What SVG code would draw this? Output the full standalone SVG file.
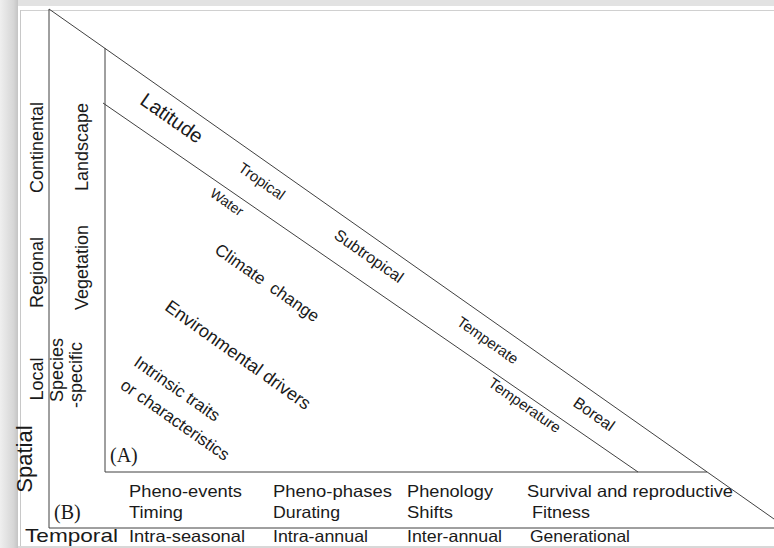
<svg xmlns="http://www.w3.org/2000/svg" width="774" height="548" viewBox="0 0 774 548">
  <style>
    .t { font-family: "Liberation Sans", Arial, sans-serif; fill: #1a1a1a; }
    .s { font-family: "Liberation Serif", "Times New Roman", serif; fill: #1a1a1a; }
    .ln { stroke: #404040; stroke-width: 1; fill: none; }
    .d { text-anchor: middle; dominant-baseline: central; }
    .v { text-anchor: middle; }
  </style>
  <defs>
    <linearGradient id="shadowL" x1="0" y1="0" x2="1" y2="0">
      <stop offset="0" stop-color="#efefef"/>
      <stop offset="0.75" stop-color="#d6d6d6"/>
      <stop offset="1" stop-color="#c4c4c4"/>
    </linearGradient>
  </defs>

  <g id="frame">
    <rect x="0" y="0" width="774" height="548" fill="#ffffff"/>
    <rect x="0" y="0" width="774" height="6" fill="#e2e2e2"/>
    <rect x="0" y="0" width="18" height="548" fill="url(#shadowL)"/>
    <line x1="20" y1="10.5" x2="774" y2="10.5" stroke="#d0d0d0" stroke-width="1.2"/>
    <line x1="20.5" y1="10" x2="20.5" y2="546" stroke="#c8c8c8" stroke-width="1"/>
    <rect x="18" y="546" width="756" height="2" fill="#d8d8d8"/>
  </g>

  <g id="connectors">
    <line class="ln" x1="49" y1="9" x2="49" y2="528"/>
    <line class="ln" x1="49" y1="9" x2="774" y2="519"/>
    <line class="ln" x1="49" y1="528" x2="774" y2="528"/>
    <line class="ln" x1="105" y1="48" x2="105" y2="472"/>
    <line class="ln" x1="105" y1="472" x2="707" y2="472"/>
    <line class="ln" x1="103" y1="103" x2="638" y2="472"/>
  </g>

  <g id="spatial-axis">
    <text class="t v" font-size="18" transform="translate(43,147.5) rotate(-90)">Continental</text>
    <text class="t v" font-size="18" transform="translate(43,272.5) rotate(-90)">Regional</text>
    <text class="t v" font-size="18" transform="translate(43,379) rotate(-90)">Local</text>
    <text class="t v" font-size="22" transform="translate(32,459) rotate(-90)">Spatial</text>
    <text class="t v" font-size="18" transform="translate(88,147) rotate(-90)">Landscape</text>
    <text class="t v" font-size="18" transform="translate(88,267.5) rotate(-90)">Vegetation</text>
    <text class="t v" font-size="18" transform="translate(63,370) rotate(-90)">Species</text>
    <text class="t v" font-size="18" transform="translate(82,375) rotate(-90)">-specific</text>
  </g>

  <g id="latitude-band">
    <text class="t d" font-size="20" transform="translate(172,118) rotate(35)">Latitude</text>
    <text class="t d" font-size="15" transform="translate(262,181) rotate(35)">Tropical</text>
    <text class="t d" font-size="16" transform="translate(369,256) rotate(35)">Subtropical</text>
    <text class="t d" font-size="15" transform="translate(488,340) rotate(35)">Temperate</text>
    <text class="t d" font-size="16" transform="translate(594,414) rotate(35)">Boreal</text>
  </g>

  <g id="drivers">
    <text class="t d" font-size="14" transform="translate(227,202) rotate(35)">Water</text>
    <text class="t d" font-size="15" transform="translate(525,405) rotate(35)">Temperature</text>
    <text class="t d" font-size="17" xml:space="preserve" transform="translate(267,283) rotate(35)">Climate  change</text>
    <text class="t d" font-size="18" transform="translate(238,355) rotate(35.5)">Environmental drivers</text>
    <text class="t d" font-size="17" transform="translate(177,389) rotate(35)">Intrinsic traits</text>
    <text class="t d" font-size="17" transform="translate(175,420) rotate(35)">or characteristics</text>
  </g>

  <g id="panel-labels">
    <text class="s" font-size="20" x="110" y="462">(A)</text>
    <text class="s" font-size="20" x="54" y="519">(B)</text>
  </g>

  <g id="temporal-axis">
    <text class="t" font-size="16.5" x="129" y="497" textLength="113" lengthAdjust="spacingAndGlyphs">Pheno-events</text>
    <text class="t" font-size="16.5" x="129" y="518" textLength="54" lengthAdjust="spacingAndGlyphs">Timing</text>
    <text class="t" font-size="16.5" x="273" y="497" textLength="119" lengthAdjust="spacingAndGlyphs">Pheno-phases</text>
    <text class="t" font-size="16.5" x="273" y="518" textLength="67" lengthAdjust="spacingAndGlyphs">Durating</text>
    <text class="t" font-size="16.5" x="407" y="497" textLength="86" lengthAdjust="spacingAndGlyphs">Phenology</text>
    <text class="t" font-size="16.5" x="407" y="518" textLength="46" lengthAdjust="spacingAndGlyphs">Shifts</text>
    <text class="t" font-size="16.5" x="527" y="497" textLength="206" lengthAdjust="spacingAndGlyphs">Survival and reproductive</text>
    <text class="t" font-size="16.5" x="532" y="518" textLength="58" lengthAdjust="spacingAndGlyphs">Fitness</text>
    <text class="t" font-size="19" x="25" y="542" textLength="93" lengthAdjust="spacingAndGlyphs">Temporal</text>
    <text class="t" font-size="16.5" x="129" y="542" textLength="116" lengthAdjust="spacingAndGlyphs">Intra-seasonal</text>
    <text class="t" font-size="16.5" x="273" y="542" textLength="95" lengthAdjust="spacingAndGlyphs">Intra-annual</text>
    <text class="t" font-size="16.5" x="407" y="542" textLength="95" lengthAdjust="spacingAndGlyphs">Inter-annual</text>
    <text class="t" font-size="16.5" x="530" y="542" textLength="100" lengthAdjust="spacingAndGlyphs">Generational</text>
  </g>
</svg>
